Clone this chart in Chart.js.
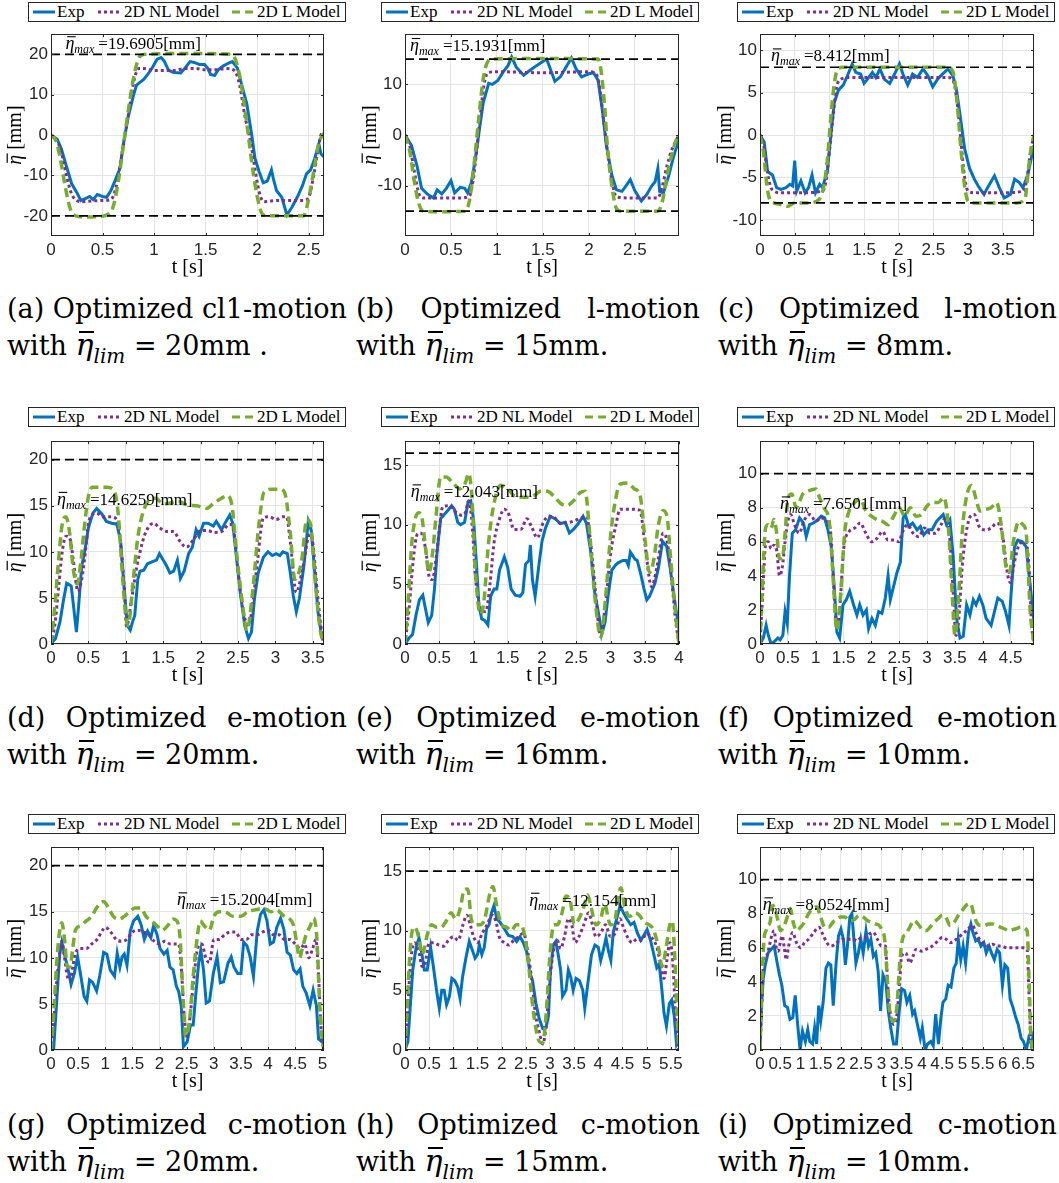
<!DOCTYPE html>
<html>
<head>
<meta charset="utf-8">
<script src="https://cdn.jsdelivr.net/npm/chart.js"></script>
<style>
  html, body { margin: 0; padding: 0; background: #fff; }
  #fig { position: relative; width: 1059px; height: 1183px; overflow: hidden; }
  .leg { position: absolute; width: 318px; height: 20px; box-sizing: border-box; border: 1px solid #262626;
         background: #fff; font: 17px "Liberation Serif"; color: #000; }
  .leg .it { position: absolute; top: 0; height: 18px; display: flex; align-items: center; white-space: nowrap; }
  .leg svg { margin-right: 2px; }
  .plot { position: absolute; }
  .cap { position: absolute; font: 27px "DejaVu Serif"; line-height: 36px; color: #000; }
  .cap .l1 { text-align: justify; text-align-last: justify; white-space: nowrap; }
  .cap .eta { font-style: italic; font-size: 30px; position: relative; }
  .cap .eta::after { content: ""; position: absolute; left: 3px; right: 0; top: 4px; border-top: 2px solid #000; }
  .cap .sub { font-style: italic; font-size: 20px; position: relative; top: 8px; }
</style>
</head>
<body>
<div id="fig"></div>
<script>
// ---- data: [t (s), eta (mm)] ----
const seriesLabels = ["Exp", "2D NL Model", "2D L Model"];
const motions = ["cl1-motion", "l-motion", "l-motion", "e-motion", "e-motion", "e-motion", "c-motion", "c-motion", "c-motion"];
const etaLim = [20, 15, 8, 20, 16, 10, 20, 15, 10];
const etaMax = ["19.6905", "15.1931", "8.412", "14.6259", "12.043", "7.6501", "15.2004", "12.154", "8.0524"];
const limitLines = [[20, -20], [15, -15], [8, -8], [20], [16], [10], [20], [15], [10]];
const yTicks = [[-20, -10, 0, 10, 20], [-10, 0, 10], [-10, -5, 0, 5, 10], [0, 5, 10, 15, 20], [0, 5, 10, 15],
                [0, 2, 4, 6, 8, 10], [0, 5, 10, 15, 20], [0, 5, 10, 15], [0, 2, 4, 6, 8, 10]];

const a_exp = [[0,0],[0.06,-1],[0.1,-3.4],[0.155,-8.2],[0.2,-12],[0.25,-14.2],[0.29,-16.2],[0.33,-15.8],[0.375,-15.2],[0.41,-16],[0.45,-14.7],[0.5,-15.2],[0.54,-15.4],[0.58,-13.8],[0.62,-11.4],[0.67,-8.2],[0.7,-2.6],[0.75,4.6],[0.8,9.8],[0.83,12.4],[0.9,13.8],[0.95,15.4],[0.99,17],[1.03,18.8],[1.07,19.2],[1.1,18.3],[1.14,16.1],[1.19,15.5],[1.26,15.4],[1.3,16.6],[1.35,18.2],[1.39,18],[1.44,17.5],[1.49,17.5],[1.52,16.6],[1.55,15],[1.59,14.8],[1.62,16.1],[1.67,17.1],[1.72,17.8],[1.76,18.2],[1.81,16.6],[1.85,12.6],[1.9,7.8],[1.95,-0.2],[1.98,-5.8],[2.02,-9],[2.06,-11.8],[2.1,-11.4],[2.14,-8.6],[2.16,-11],[2.19,-13.8],[2.24,-15.4],[2.29,-19.8],[2.34,-17.8],[2.39,-15.4],[2.44,-12.6],[2.48,-9.6],[2.52,-8.6],[2.56,-5.8],[2.6,-2.2],[2.62,-4.6],[2.65,-5.4]];
const a_nl = [[0,0],[0.05,-1],[0.1,-4.2],[0.155,-10.6],[0.2,-14.6],[0.25,-16.2],[0.3,-16.5],[0.4,-16.3],[0.5,-16.2],[0.58,-16],[0.63,-13],[0.68,-6],[0.72,0],[0.77,8],[0.81,14],[0.85,16.5],[0.9,16.5],[1.0,16],[1.2,16],[1.3,16.5],[1.4,16.5],[1.5,16.2],[1.6,16.2],[1.7,16.5],[1.78,16],[1.83,12.5],[1.88,5],[1.94,-2],[1.99,-10],[2.03,-15],[2.07,-16.5],[2.2,-16.2],[2.3,-16.2],[2.45,-16.2],[2.5,-15.5],[2.55,-10],[2.59,-4],[2.62,0],[2.65,1]];
const a_l = [[0,0],[0.05,-1.5],[0.09,-5.8],[0.14,-13],[0.19,-18.5],[0.24,-20],[0.35,-20.3],[0.45,-20.2],[0.54,-19.8],[0.6,-18],[0.65,-12],[0.7,-3],[0.75,6],[0.8,14],[0.85,19],[0.9,20],[1.2,20.2],[1.5,20.2],[1.75,20],[1.8,18],[1.85,12],[1.9,3],[1.95,-7],[2.0,-15],[2.05,-19.5],[2.1,-20],[2.45,-20],[2.5,-16],[2.55,-9],[2.6,-2],[2.65,0.5]];

const b_exp = [[0,0],[0.07,-2],[0.13,-6],[0.18,-10.5],[0.24,-11.6],[0.31,-12.4],[0.35,-10.8],[0.4,-11.6],[0.45,-10.5],[0.5,-9],[0.54,-11.4],[0.6,-10.3],[0.65,-10.5],[0.68,-11.4],[0.72,-9.5],[0.76,-5.3],[0.81,1.2],[0.85,6.3],[0.91,10.2],[0.95,10],[1.01,10.8],[1.07,12.5],[1.12,13.7],[1.16,15.4],[1.21,13.4],[1.29,11.8],[1.36,12.8],[1.43,13.7],[1.49,14.4],[1.54,15],[1.58,13.1],[1.63,10.6],[1.69,11.5],[1.76,13.7],[1.81,15.2],[1.86,13.1],[1.92,11.5],[2.0,12.1],[2.05,12.3],[2.1,10.8],[2.15,4.4],[2.19,-2],[2.25,-7.9],[2.3,-10.8],[2.36,-11.1],[2.4,-10.1],[2.45,-8.8],[2.5,-11],[2.57,-13],[2.63,-11.7],[2.68,-10.1],[2.72,-9.2],[2.75,-6.6],[2.77,-11.1],[2.81,-11.4],[2.87,-7.9],[2.92,-4.3],[2.98,-0.8]];
const b_nl = [[0,0],[0.05,-2],[0.1,-7],[0.15,-11.5],[0.2,-12.4],[0.4,-12.4],[0.6,-12.4],[0.7,-12],[0.74,-9],[0.78,-3],[0.82,4],[0.86,10],[0.9,12.3],[1.0,12.5],[1.5,12.3],[2.0,12.5],[2.08,12],[2.12,9],[2.16,3],[2.2,-3],[2.25,-9],[2.3,-12.2],[2.5,-12.4],[2.75,-12.4],[2.8,-10],[2.85,-6],[2.9,-3],[2.95,-1],[2.98,0]];
const b_l = [[0,0],[0.05,-3],[0.1,-9],[0.15,-13.5],[0.2,-15],[0.4,-15.1],[0.65,-15],[0.7,-13],[0.75,-6],[0.8,3],[0.85,11],[0.9,14.5],[0.95,15],[1.5,15.1],[2.1,15],[2.13,13],[2.17,6],[2.2,-2],[2.25,-10],[2.3,-14.5],[2.35,-15],[2.75,-15],[2.8,-13],[2.85,-8],[2.9,-4],[2.95,-1],[2.98,0]];

const c_exp = [[0,0],[0.06,-0.8],[0.11,-4.3],[0.18,-4.7],[0.24,-6.2],[0.3,-6.4],[0.375,-6.2],[0.43,-5.8],[0.47,-6],[0.5,-3],[0.53,-6.6],[0.59,-5.4],[0.65,-6.8],[0.7,-6.2],[0.75,-4.7],[0.8,-6.8],[0.86,-5.8],[0.9,-6.2],[0.97,-4.3],[1.02,-0.1],[1.07,3.8],[1.13,5.3],[1.2,5.9],[1.26,7],[1.33,8.4],[1.38,7.4],[1.45,7.2],[1.5,6.1],[1.55,6.6],[1.62,7.4],[1.67,6.8],[1.73,7.8],[1.79,6.6],[1.87,6.1],[1.94,7.2],[2.01,8.4],[2.06,7.2],[2.13,5.9],[2.2,7.2],[2.27,6.8],[2.35,7.8],[2.42,7],[2.49,5.7],[2.56,6.6],[2.63,7.2],[2.71,7.8],[2.78,7],[2.83,5.5],[2.88,2.6],[2.95,-1.6],[3.02,-3.9],[3.09,-5.2],[3.16,-6.2],[3.23,-7],[3.28,-6.2],[3.38,-4.8],[3.45,-6.2],[3.52,-7.4],[3.61,-7],[3.67,-5.2],[3.74,-5.6],[3.79,-6.2],[3.86,-4.7],[3.95,-1.2]];
const c_nl = [[0,0],[0.05,-1],[0.1,-4],[0.15,-6],[0.2,-6.6],[0.3,-6.8],[0.6,-6.8],[0.9,-6.6],[0.95,-5.5],[1.0,-2],[1.05,2],[1.1,5.5],[1.15,6.5],[1.3,6.8],[2.0,6.8],[2.7,6.8],[2.78,6.5],[2.84,4],[2.9,-1],[2.95,-5],[3.0,-6.6],[3.1,-6.8],[3.5,-6.8],[3.8,-6.6],[3.85,-5],[3.9,-2],[3.95,0]];
const c_l = [[0,0],[0.05,-2],[0.1,-6],[0.15,-7.8],[0.2,-8],[0.3,-8.2],[0.4,-8.4],[0.5,-8],[0.7,-8],[0.85,-7.6],[0.92,-6],[0.97,-3],[1.02,2],[1.07,6],[1.12,7.8],[1.2,8],[2.7,8],[2.78,7.5],[2.84,4],[2.9,-2],[2.95,-6],[3.0,-7.8],[3.1,-8],[3.7,-8],[3.82,-7.5],[3.87,-4],[3.92,-1],[3.95,0]];

const d_exp = [[0,0],[0.06,0.6],[0.12,2.4],[0.17,4.9],[0.21,6.6],[0.27,6.3],[0.3,4.2],[0.34,1.3],[0.37,4.2],[0.41,8.4],[0.46,10.5],[0.5,12.6],[0.56,14.2],[0.61,14.7],[0.68,14.1],[0.74,13.3],[0.81,13.1],[0.88,13],[0.93,11.2],[0.98,5.9],[1.02,2],[1.06,1.5],[1.09,2.4],[1.12,3.1],[1.16,7],[1.19,7.9],[1.24,8],[1.29,8.7],[1.35,8.9],[1.41,9.1],[1.45,9.8],[1.5,9.1],[1.55,8.4],[1.59,7.7],[1.64,7.9],[1.69,9.1],[1.73,7.1],[1.78,7.9],[1.84,9.8],[1.89,10.5],[1.94,12.4],[1.98,11.7],[2.04,13.1],[2.1,13.1],[2.17,12.8],[2.21,13.3],[2.28,12.4],[2.34,13.3],[2.39,14],[2.43,13.1],[2.48,9.4],[2.53,5.6],[2.59,2],[2.64,0.6],[2.68,1.3],[2.72,4.9],[2.77,7.7],[2.84,9.4],[2.9,10],[2.96,9.6],[3.01,9.8],[3.06,9.6],[3.1,10],[3.16,9.8],[3.2,7.7],[3.24,5.2],[3.28,3.5],[3.32,4.9],[3.38,8.4],[3.44,13.3],[3.48,12.3],[3.52,8.4],[3.57,3.5],[3.61,1.3],[3.65,1]];
const d_nl = [[0,0],[0.05,2],[0.1,6],[0.15,10],[0.2,11.7],[0.25,11.5],[0.3,9],[0.36,5.7],[0.41,7],[0.46,10],[0.5,13],[0.55,14],[0.61,14.2],[0.7,13.8],[0.8,13.8],[0.88,13.5],[0.93,11],[0.98,6],[1.01,1.9],[1.08,5],[1.15,8.5],[1.19,10],[1.26,12],[1.37,13.1],[1.45,12.6],[1.55,12.2],[1.64,12.2],[1.72,11.2],[1.81,10.5],[1.92,11.5],[2.0,12.3],[2.1,12.3],[2.17,12.1],[2.28,12.2],[2.39,13],[2.45,12],[2.5,8],[2.56,4],[2.64,2],[2.7,4.5],[2.76,9],[2.84,13.7],[2.92,13.8],[3.01,13.5],[3.1,13.8],[3.15,13.8],[3.2,11],[3.28,5.6],[3.36,8],[3.46,11.9],[3.5,11],[3.55,6.5],[3.6,2.5],[3.64,0]];
const d_l = [[0,0],[0.05,4],[0.1,9],[0.15,13],[0.2,13.8],[0.25,12],[0.3,8],[0.35,6.5],[0.4,9],[0.45,13],[0.5,16],[0.55,17],[0.65,17],[0.75,17],[0.85,16.5],[0.9,14],[0.95,8],[1.0,3],[1.03,2],[1.1,7],[1.16,11.5],[1.22,14],[1.3,15.5],[1.4,15.8],[1.5,15.2],[1.6,15.3],[1.7,15.5],[1.81,15.1],[1.95,15],[2.08,14.7],[2.18,15.3],[2.28,15.8],[2.35,16.1],[2.42,15],[2.48,10],[2.55,5],[2.62,1.5],[2.7,6],[2.78,13],[2.85,16.5],[2.95,16.8],[3.05,16.8],[3.12,16.5],[3.2,12],[3.26,7],[3.35,9],[3.42,13.5],[3.47,13],[3.53,7],[3.6,1.5],[3.65,0]];

const e_exp = [[0,0],[0.06,0.5],[0.11,0.8],[0.16,2.4],[0.21,3.7],[0.26,4.1],[0.29,3.2],[0.34,1.8],[0.39,2.4],[0.43,4.6],[0.47,7.8],[0.52,10.5],[0.58,10.9],[0.64,11.3],[0.68,11.6],[0.72,11.3],[0.77,10.2],[0.81,10],[0.87,10.2],[0.92,11.9],[0.96,12],[1.0,10.5],[1.04,7],[1.08,3.2],[1.12,2.1],[1.16,2],[1.21,1.6],[1.25,4],[1.3,4.6],[1.34,4.6],[1.38,6.2],[1.45,7.3],[1.5,6.4],[1.55,4.6],[1.61,4.1],[1.68,4],[1.72,4.3],[1.76,6.7],[1.81,7],[1.83,8.3],[1.86,5.4],[1.9,4],[1.95,6.4],[2.0,8.6],[2.05,9.7],[2.12,10.7],[2.19,10.5],[2.27,10.1],[2.34,10.2],[2.4,9.3],[2.46,9.6],[2.53,10.1],[2.6,10.7],[2.65,10.1],[2.71,7.8],[2.77,4.3],[2.84,2.1],[2.87,0.8],[2.92,1.8],[2.97,4.3],[3.02,6.2],[3.07,6.6],[3.11,6.8],[3.18,7],[3.23,7],[3.26,6.6],[3.29,7.7],[3.36,7.1],[3.39,7],[3.44,5.9],[3.49,4.6],[3.53,3.7],[3.57,4],[3.65,5.1],[3.7,6.4],[3.76,8.6],[3.82,8.2],[3.87,6.4],[3.92,4.3],[4.0,1.2]];
const e_nl = [[0,0],[0.06,3],[0.12,7],[0.18,9.2],[0.23,9.3],[0.3,8],[0.36,5.5],[0.4,5.4],[0.45,7],[0.5,9.5],[0.55,11.5],[0.65,11.6],[0.75,11],[0.82,10.8],[0.88,11],[0.93,12],[0.98,10],[1.03,5.5],[1.1,3],[1.18,2.7],[1.24,5],[1.3,8.5],[1.38,10.5],[1.45,11.3],[1.52,10.8],[1.59,9.6],[1.69,9.6],[1.78,10.5],[1.85,9.8],[1.93,8.9],[2.02,10.2],[2.1,10.7],[2.18,10.6],[2.27,10.1],[2.4,10.2],[2.55,10.5],[2.65,10.7],[2.7,9],[2.78,4.5],[2.85,0.8],[2.93,3.5],[3.0,7.5],[3.08,10],[3.14,11.3],[3.29,11.3],[3.43,11.2],[3.5,8.5],[3.6,4.8],[3.68,6.5],[3.77,9.3],[3.83,8.5],[3.9,5],[3.95,2],[4.0,0]];
const e_l = [[0,0],[0.05,4],[0.1,8.5],[0.15,10.5],[0.2,11],[0.25,10.5],[0.3,8],[0.35,6],[0.4,7.5],[0.45,10.5],[0.52,14],[0.6,14],[0.7,13.5],[0.8,13],[0.88,13.5],[0.93,14.3],[0.98,12],[1.03,6],[1.1,2.5],[1.15,3.5],[1.22,8.5],[1.3,11.8],[1.4,13.3],[1.5,13],[1.6,12.4],[1.7,12.3],[1.8,12.3],[1.9,12.5],[1.98,12.8],[2.08,12.8],[2.17,12.4],[2.27,11.8],[2.36,11.6],[2.46,12],[2.56,12.7],[2.63,12.8],[2.7,9],[2.77,4],[2.86,0.6],[2.93,4],[3.0,9],[3.07,12],[3.14,13.4],[3.25,13.5],[3.35,13],[3.43,12.5],[3.5,9],[3.57,6],[3.63,7],[3.7,10],[3.77,11.2],[3.83,10.5],[3.88,7],[3.95,2.5],[4.0,0]];

const f_exp = [[0,0],[0.06,0.35],[0.11,1.1],[0.15,0.5],[0.2,0],[0.26,0.15],[0.32,0.35],[0.36,0.25],[0.41,0.5],[0.45,1.9],[0.49,1.2],[0.53,4],[0.58,6.5],[0.64,6.7],[0.71,7.4],[0.78,7.1],[0.83,6.3],[0.89,7],[0.96,7.1],[1.04,7.3],[1.1,7.5],[1.16,7.4],[1.22,6.7],[1.28,5.7],[1.34,3],[1.38,0.7],[1.43,0.35],[1.49,2.3],[1.55,2.6],[1.61,3.1],[1.68,2.3],[1.74,1.7],[1.79,2.3],[1.85,1.7],[1.91,2],[1.95,0.9],[2.01,1.5],[2.07,1.1],[2.13,1.9],[2.19,1.8],[2.25,2.7],[2.3,4],[2.34,2.6],[2.4,3.4],[2.46,4.2],[2.52,4.8],[2.57,7.4],[2.61,7.6],[2.67,6.9],[2.74,7.1],[2.82,6.7],[2.88,6.9],[2.94,6.4],[3.02,6.7],[3.09,6.7],[3.17,7.2],[3.23,7.4],[3.29,7.6],[3.35,7],[3.41,7.3],[3.47,5.1],[3.53,1.5],[3.59,0.35],[3.65,0.45],[3.71,2.3],[3.77,1.7],[3.83,2.6],[3.88,2.3],[3.94,2.8],[4.0,2.3],[4.06,1.5],[4.15,1.1],[4.21,1.9],[4.27,2.7],[4.35,2.5],[4.41,1.9],[4.47,1.1],[4.51,3],[4.57,5.7],[4.63,6.1],[4.71,6],[4.78,5.7],[4.84,3.8],[4.92,1.3]];
const f_nl = [[0,0],[0.05,3],[0.1,5.8],[0.15,6],[0.2,5.6],[0.25,5.8],[0.3,5.5],[0.35,4],[0.4,4.5],[0.45,6],[0.5,7.2],[0.55,7.6],[0.62,7],[0.7,6.5],[0.8,7.3],[0.9,7.6],[1.0,7.2],[1.1,7.4],[1.2,7.2],[1.27,6.5],[1.33,3],[1.38,1],[1.43,2],[1.5,5.5],[1.6,6.6],[1.7,6.8],[1.8,7.1],[1.9,6.5],[2.0,6],[2.1,6.2],[2.2,6.6],[2.3,6.1],[2.4,6.1],[2.5,6],[2.55,6.5],[2.65,7],[2.75,6.5],[2.85,6.3],[2.95,6.8],[3.05,6.5],[3.15,6.5],[3.25,7],[3.33,7.4],[3.4,6.5],[3.47,3],[3.52,0.5],[3.57,1.5],[3.63,4.5],[3.7,6.5],[3.78,7.5],[3.85,7.6],[3.95,6.8],[4.05,6.7],[4.15,6.8],[4.25,7.1],[4.35,6.5],[4.45,4],[4.5,3.6],[4.55,4.5],[4.65,5.8],[4.75,6],[4.82,5],[4.88,1],[4.92,0]];
const f_l = [[0,0],[0.05,4],[0.1,6.8],[0.15,7],[0.2,6.8],[0.25,7.3],[0.3,6.5],[0.35,5],[0.4,5],[0.45,6.5],[0.5,8.5],[0.57,8.8],[0.65,8],[0.77,8.8],[0.88,9],[1.0,9.1],[1.08,8.5],[1.15,8],[1.25,7],[1.32,3.5],[1.38,0.8],[1.45,3],[1.52,6.5],[1.6,7.8],[1.7,8.3],[1.8,8.5],[1.9,7.8],[2.0,7.5],[2.1,7.3],[2.2,7.2],[2.3,7],[2.4,7.5],[2.5,8],[2.6,7.5],[2.7,8],[2.8,7.5],[2.9,7.6],[3.0,8.1],[3.1,8.3],[3.2,8.3],[3.3,8.6],[3.38,7],[3.45,3],[3.5,0.5],[3.57,3],[3.63,6.5],[3.7,8.5],[3.8,9.3],[3.88,8.5],[3.95,7.8],[4.05,7.9],[4.15,8],[4.25,8.3],[4.33,7],[4.42,4.5],[4.48,4.2],[4.55,6],[4.65,7.2],[4.72,7],[4.78,6.5],[4.85,2],[4.92,0]];

const g_exp = [[0,0.5],[0.05,0.2],[0.1,4.8],[0.16,10.4],[0.2,11.7],[0.26,10.1],[0.33,8.3],[0.37,7.1],[0.43,8.3],[0.49,10.1],[0.55,8],[0.61,5.8],[0.66,5.3],[0.71,7.6],[0.77,7.3],[0.84,6.4],[0.9,8.1],[0.97,10.6],[1.03,10.4],[1.09,8.7],[1.17,8],[1.22,10.5],[1.27,9],[1.31,10.1],[1.35,10.4],[1.4,9.2],[1.46,12.9],[1.52,14],[1.6,14.5],[1.66,13.6],[1.72,12],[1.78,12.9],[1.84,12.2],[1.89,13.5],[1.95,12.6],[2.01,11],[2.08,10.4],[2.14,10.8],[2.19,9],[2.25,8.7],[2.31,6.9],[2.35,6.4],[2.4,4.8],[2.44,0.35],[2.51,0.9],[2.57,2.7],[2.62,2.7],[2.66,5.5],[2.72,9.4],[2.76,10.8],[2.81,8.7],[2.86,5.1],[2.92,5.3],[2.99,8.3],[3.06,10.1],[3.12,7.3],[3.18,7.4],[3.26,9.4],[3.32,10.1],[3.37,9],[3.44,8.3],[3.5,8.3],[3.55,11.7],[3.61,11.3],[3.67,10.1],[3.73,8],[3.8,12.9],[3.86,14.7],[3.92,15.2],[3.98,14],[4.04,11.5],[4.1,11.7],[4.16,13.3],[4.23,14.3],[4.29,13.1],[4.35,10.6],[4.41,10.3],[4.47,8.7],[4.53,8.3],[4.59,8.8],[4.64,6.9],[4.7,6.2],[4.77,4.8],[4.83,6.5],[4.89,4.8],[4.93,1.2],[4.99,0.9],[5.03,1.8]];
const g_nl = [[0,0],[0.05,3],[0.1,7],[0.15,10],[0.2,11.8],[0.25,10],[0.3,8],[0.35,7.5],[0.4,9],[0.45,10.5],[0.55,11],[0.65,11],[0.75,11.5],[0.85,12],[0.95,13],[1.0,13.3],[1.1,12.8],[1.2,12],[1.3,11.8],[1.4,12],[1.5,12.8],[1.6,13],[1.7,12.8],[1.8,12.5],[1.9,11.8],[2.0,11.5],[2.1,11.8],[2.2,11.5],[2.3,11.5],[2.35,11.5],[2.4,9],[2.45,4],[2.5,1.5],[2.55,3],[2.62,7],[2.7,11],[2.78,11.5],[2.85,10],[2.92,9.5],[3.0,12],[3.1,12],[3.2,12.5],[3.3,12.8],[3.4,12.8],[3.5,12],[3.6,12],[3.7,12.5],[3.8,12.5],[3.9,12.8],[4.0,13],[4.1,12.5],[4.2,12.5],[4.3,12],[4.4,12],[4.5,11.5],[4.6,11],[4.67,11.5],[4.75,10],[4.82,11],[4.88,12],[4.93,8],[4.98,2],[5.03,0]];
const g_l = [[0,0],[0.05,4],[0.1,9],[0.15,12.5],[0.2,13.8],[0.25,12],[0.3,9],[0.35,9],[0.4,11],[0.45,13],[0.55,13.5],[0.65,14],[0.75,14.5],[0.85,15.5],[0.97,16.1],[1.05,15.5],[1.15,14.5],[1.25,14.2],[1.35,14.5],[1.45,15],[1.55,15.4],[1.65,15.4],[1.75,14.5],[1.85,14],[1.95,13.5],[2.05,13],[2.15,13.5],[2.25,14.2],[2.32,14],[2.38,12],[2.43,6],[2.48,1.5],[2.55,3],[2.62,8],[2.7,12.5],[2.75,14],[2.82,13.5],[2.92,13],[3.0,14.5],[3.1,15],[3.2,15],[3.35,14.5],[3.5,14.5],[3.62,15],[3.75,15.2],[3.85,15.3],[3.95,15.3],[4.05,15],[4.15,15.2],[4.3,14.5],[4.4,14.2],[4.47,13.5],[4.53,11.5],[4.58,10],[4.63,11],[4.7,12.5],[4.78,13.5],[4.84,14.3],[4.9,12],[4.95,5],[5.0,1],[5.03,0]];

const h_exp = [[0,0],[0.06,0.7],[0.1,3.1],[0.16,6.7],[0.23,8.6],[0.29,9.4],[0.34,8.3],[0.4,6.7],[0.46,6.7],[0.53,8.6],[0.59,6.9],[0.66,4.8],[0.71,3.5],[0.76,5],[0.81,5],[0.86,3.8],[0.92,4.5],[0.97,6],[1.03,5.8],[1.09,5.3],[1.14,4.3],[1.19,6.1],[1.26,7.7],[1.33,9.1],[1.4,8.3],[1.45,7.7],[1.5,8],[1.54,8.8],[1.59,8],[1.64,8.6],[1.69,10.2],[1.74,10.5],[1.79,11.5],[1.84,12.1],[1.9,11],[1.97,10.7],[2.05,10.2],[2.14,9.6],[2.23,9.5],[2.31,9.1],[2.38,9.5],[2.45,9],[2.52,8.2],[2.59,6.4],[2.64,5.8],[2.71,3.9],[2.78,2.6],[2.85,1.8],[2.92,1.9],[2.97,2.9],[3.01,6.7],[3.07,8.8],[3.12,9.1],[3.17,8],[3.22,6.7],[3.26,4.5],[3.33,5],[3.38,6.7],[3.43,6.1],[3.48,5],[3.54,6],[3.61,5.8],[3.68,5],[3.72,3.5],[3.79,5.8],[3.86,8],[3.93,8.8],[4.0,8.6],[4.05,7.5],[4.1,8.3],[4.16,9.4],[4.21,8.3],[4.26,7.5],[4.31,9.9],[4.38,11],[4.45,12.1],[4.52,11.5],[4.59,11],[4.67,10.5],[4.74,10.7],[4.81,9.8],[4.88,9.2],[4.94,9.6],[5.01,10.1],[5.08,9.2],[5.15,8],[5.21,6.9],[5.26,7.2],[5.31,5.3],[5.36,3.1],[5.41,2],[5.47,3.9],[5.52,4.2],[5.57,2.9],[5.62,0.4],[5.67,0.7]];
const h_nl = [[0,0],[0.05,3],[0.1,6.5],[0.15,8.5],[0.2,9],[0.3,8],[0.35,7],[0.4,7],[0.45,8],[0.5,9],[0.6,9],[0.7,8.8],[0.8,8.7],[0.9,9.2],[1.0,9.5],[1.1,9.2],[1.2,10.5],[1.28,11.3],[1.35,10.5],[1.42,9.5],[1.5,9],[1.6,9.8],[1.7,10.5],[1.8,11.3],[1.88,10.8],[1.95,9.5],[2.05,9],[2.15,8.8],[2.25,9.2],[2.35,9.5],[2.45,9.8],[2.55,8],[2.62,6],[2.7,3],[2.78,1.5],[2.85,0.5],[2.92,2],[3.0,6],[3.08,8.5],[3.15,9.2],[3.22,8.5],[3.3,9.5],[3.38,11],[3.45,10.5],[3.52,9],[3.6,9.5],[3.7,10.5],[3.8,11.5],[3.88,10.5],[3.95,9.5],[4.05,9.8],[4.15,10.5],[4.25,9.5],[4.35,9.8],[4.45,11],[4.5,10.5],[4.6,9.5],[4.7,9],[4.8,9.3],[4.9,9.2],[5.0,9.8],[5.08,9.5],[5.15,9.2],[5.22,8.5],[5.3,7],[5.36,6],[5.42,7.5],[5.48,9],[5.53,8],[5.6,3],[5.66,0]];
const h_l = [[0,0],[0.05,4],[0.1,8],[0.15,10],[0.2,10.3],[0.28,9.5],[0.35,8],[0.4,8.5],[0.45,9.5],[0.55,10.5],[0.65,10.3],[0.75,10.3],[0.85,10.8],[0.95,11.5],[1.05,11],[1.15,12],[1.22,13.4],[1.3,13.5],[1.37,11],[1.45,10.5],[1.55,10.5],[1.65,11],[1.75,13],[1.82,13.7],[1.9,12],[2.0,10.5],[2.1,10.3],[2.2,10],[2.3,10.5],[2.4,10.5],[2.48,9.5],[2.55,7.5],[2.62,4.5],[2.7,2],[2.78,0.7],[2.85,0.6],[2.92,3],[3.0,8],[3.08,10.5],[3.15,10.5],[3.25,11.5],[3.33,12.9],[3.42,12.5],[3.5,10.5],[3.6,11],[3.7,12],[3.78,13],[3.85,12],[3.95,10.5],[4.05,11],[4.13,12.2],[4.25,10.5],[4.35,11],[4.42,13],[4.47,13.6],[4.55,12],[4.65,11.2],[4.75,11.5],[4.85,11.3],[4.95,10.7],[5.05,10.5],[5.15,10],[5.25,8.5],[5.32,7],[5.4,8.5],[5.48,10.5],[5.53,10.8],[5.58,8],[5.63,3],[5.67,0]];

const i_exp = [[0,0],[0.03,2.3],[0.08,4.2],[0.13,5],[0.2,5.7],[0.27,5.9],[0.35,6.1],[0.41,5.3],[0.48,4.4],[0.54,3.8],[0.61,2.6],[0.68,2.5],[0.74,1.8],[0.81,1.9],[0.87,3.2],[0.93,1.5],[0.99,0],[1.05,1.1],[1.12,0.5],[1.18,1.2],[1.23,0.5],[1.3,0.35],[1.35,1.3],[1.4,0.35],[1.45,2.6],[1.5,1.7],[1.56,2.8],[1.63,4.8],[1.69,5.1],[1.75,5],[1.81,2.6],[1.88,5.1],[1.94,6.7],[2.0,7.1],[2.06,6.5],[2.11,5],[2.16,6.1],[2.22,7.8],[2.27,8],[2.32,6.5],[2.37,5.1],[2.43,5.7],[2.49,6.5],[2.55,5.7],[2.62,7],[2.68,6.1],[2.74,6.5],[2.8,5.5],[2.86,5.7],[2.92,4.6],[2.98,2.3],[3.04,4.4],[3.11,4],[3.17,2.3],[3.23,1.3],[3.3,0.35],[3.37,0.35],[3.44,2.3],[3.5,3.6],[3.57,3.5],[3.63,2.8],[3.7,3.2],[3.77,2.1],[3.82,2.3],[3.89,1.5],[3.96,0.7],[4.01,1.3],[4.08,0],[4.14,0.35],[4.22,0.5],[4.28,0.25],[4.34,2.1],[4.41,0.35],[4.47,1.9],[4.52,2.8],[4.59,3],[4.65,3.8],[4.72,3.7],[4.79,4.8],[4.85,5.1],[4.9,6.5],[4.96,5.3],[5.02,6.1],[5.08,5.1],[5.15,6.9],[5.21,7.4],[5.26,6.9],[5.33,6.4],[5.39,6.5],[5.46,6.1],[5.53,6.3],[5.59,5.7],[5.66,6.1],[5.72,5.7],[5.79,5.3],[5.86,5.9],[5.92,5.7],[5.99,3.8],[6.05,5],[6.12,4.8],[6.18,3],[6.25,2.5],[6.32,1.9],[6.38,1.5],[6.45,0.7],[6.51,0.5],[6.58,0],[6.64,0.7],[6.71,0.35],[6.77,1.1]];
const i_nl = [[0,0],[0.05,3],[0.1,5.5],[0.15,5.5],[0.2,5.8],[0.3,6.8],[0.35,7],[0.4,6],[0.45,5.8],[0.5,6.3],[0.55,6.7],[0.6,6],[0.65,5.3],[0.7,6],[0.81,6.9],[0.9,6.3],[1.0,6],[1.1,6.3],[1.2,6.5],[1.3,6.8],[1.46,7.2],[1.55,6.8],[1.65,6.3],[1.75,6.1],[1.85,6.2],[1.95,6.4],[2.05,6.5],[2.2,6.5],[2.3,6.5],[2.4,6.4],[2.5,6.6],[2.6,6.6],[2.7,6.8],[2.8,6.9],[2.9,6.5],[3.0,6.1],[3.1,6.1],[3.15,4],[3.2,2.5],[3.3,1.5],[3.38,2],[3.45,4],[3.5,5.5],[3.6,5.7],[3.7,5.1],[3.78,5.5],[3.85,5.9],[4.0,5.8],[4.1,5.9],[4.2,6],[4.3,6.2],[4.4,6.4],[4.5,6.6],[4.6,6.5],[4.7,6.3],[4.8,6.4],[4.9,6.6],[5.0,6.8],[5.1,7],[5.25,7.3],[5.35,6.8],[5.45,6.4],[5.55,6.2],[5.65,6.1],[5.75,6.2],[5.85,6.1],[5.95,6.1],[6.1,6],[6.3,6],[6.5,6],[6.6,5.9],[6.65,3],[6.7,0.3],[6.77,0]];
const i_l = [[0,0],[0.05,4],[0.1,6.5],[0.15,7],[0.2,7.3],[0.25,7.5],[0.31,8.5],[0.38,8.2],[0.45,7.5],[0.5,7],[0.6,7.3],[0.7,8],[0.75,8.3],[0.82,7.5],[0.9,7],[1.0,7.2],[1.1,7.5],[1.2,8],[1.3,8.3],[1.4,8.4],[1.5,7.8],[1.6,7.2],[1.7,7.2],[1.8,7.5],[1.9,7.7],[2.0,7.8],[2.1,7.8],[2.2,7.6],[2.3,7.6],[2.45,7.9],[2.55,7.8],[2.65,7.6],[2.75,7.5],[2.85,7.4],[2.95,7.3],[3.02,7],[3.08,6.5],[3.15,4],[3.22,2],[3.3,1.7],[3.38,2.5],[3.45,5],[3.52,6.5],[3.6,6.8],[3.7,7.2],[3.8,7.6],[3.9,7.4],[4.0,7.1],[4.1,7],[4.2,7.2],[4.3,7.5],[4.4,7.7],[4.5,7.9],[4.59,7.8],[4.7,7.3],[4.8,7.5],[4.9,7.9],[5.0,8.2],[5.1,8.5],[5.2,8.6],[5.28,8],[5.35,7.5],[5.45,7.3],[5.55,7.3],[5.65,7.4],[5.75,7.4],[5.85,7.3],[5.95,7.2],[6.05,7.1],[6.15,7],[6.3,7.1],[6.45,7.2],[6.6,7],[6.65,4],[6.7,0.5],[6.77,0]];

const expData = [a_exp, b_exp, c_exp, d_exp, e_exp, f_exp, g_exp, h_exp, i_exp];
const nlData = [a_nl, b_nl, c_nl, d_nl, e_nl, f_nl, g_nl, h_nl, i_nl];
const lData = [a_l, b_l, c_l, d_l, e_l, f_l, g_l, h_l, i_l];

// ---- layout / axes ----
const cols = [
  { left: 0, plotL: 51, plotR: 324, legL: 28, capL: 7, capW: 340, ytX: 15 },
  { left: 353, plotL: 405, plotR: 679, legL: 381, capL: 356, capW: 344, ytX: 17 },
  { left: 706, plotL: 760, plotR: 1034, legL: 737, capL: 718, capW: 339, ytX: 19 }
];
const rows = [
  { plotT: 29, plotB: 236, legT: 2, capT: 291 },
  { plotT: 436, plotB: 644, legT: 407, capT: 700 },
  { plotT: 842, plotB: 1050, legT: 814, capT: 1107 }
];
const axes = [
  { xMax: 2.65, yMin: -25, yMax: 25, ann: [0.14, 21.3] },
  { xMax: 2.98, yMin: -19.9, yMax: 19.9, ann: [0.054, 16.6] },
  { xMax: 3.95, yMin: -11.9, yMax: 11.9, ann: [0.16, 8.7] },
  { xMax: 3.65, yMin: 0, yMax: 22, ann: [0.08, 15.1] },
  { xMax: 4.0, yMin: 0, yMax: 17, ann: [0.085, 12.3] },
  { xMax: 4.92, yMin: 0, yMax: 11.9, ann: [0.36, 7.9] },
  { xMax: 5.03, yMin: 0, yMax: 22, ann: [2.32, 15.7] },
  { xMax: 5.67, yMin: 0, yMax: 17, ann: [2.57, 12.1] },
  { xMax: 6.77, yMin: 0, yMax: 11.9, ann: [0.066, 8.2] }
];

const styles = [
  { color: "#0072BD", width: 3, dash: [], svgDash: "" },
  { color: "#7E2F8E", width: 3, dash: [3, 3], svgDash: "3 3" },
  { color: "#77AC30", width: 3.5, dash: [9, 5], svgDash: "8 5" }
];
const AXC = "#262626";
const SERIF = '"Liberation Serif", serif';

// overlined italic eta, baseline-left, returns advance
function drawEta(ctx, x, y, size) {
  ctx.font = `italic ${size}px ${SERIF}`;
  const w = ctx.measureText("η").width;
  ctx.fillText("η", x, y);
  ctx.fillRect(x + size * 0.1, y - size * 0.72, w * 0.95, Math.max(1, size * 0.06));
  return w;
}

const matlabBox = {
  id: "matlabBox",
  afterDatasetsDraw(chart, args, opts) {
    const { ctx, chartArea: a, scales: { x, y } } = chart;
    ctx.save();
    ctx.strokeStyle = AXC;
    ctx.lineWidth = 1;
    ctx.setLineDash([]);
    ctx.beginPath();
    x.ticks.forEach(t => {
      const px = Math.round(x.getPixelForValue(t.value)) + 0.5;
      ctx.moveTo(px, a.bottom); ctx.lineTo(px, a.bottom - 3);
      ctx.moveTo(px, a.top); ctx.lineTo(px, a.top + 3);
    });
    y.ticks.forEach(t => {
      const py = Math.round(y.getPixelForValue(t.value)) + 0.5;
      ctx.moveTo(a.left, py); ctx.lineTo(a.left + 3, py);
      ctx.moveTo(a.right, py); ctx.lineTo(a.right - 3, py);
    });
    ctx.stroke();
    ctx.strokeRect(Math.round(a.left) + 0.5, Math.round(a.top) + 0.5, Math.round(a.width) - 1, Math.round(a.height) - 1);

    // eta_max annotation
    ctx.fillStyle = "#000";
    ctx.textAlign = "left";
    ctx.textBaseline = "alphabetic";
    let cx = x.getPixelForValue(opts.ann[0]);
    const cy = y.getPixelForValue(opts.ann[1]);
    cx += drawEta(ctx, cx, cy, 18);
    ctx.font = `italic 12px ${SERIF}`;
    ctx.fillText("max", cx, cy + 4);
    cx += ctx.measureText("max").width + 4;
    ctx.font = `17px ${SERIF}`;
    ctx.fillText("=" + opts.etaMax + "[mm]", cx, cy);

    // y axis title
    ctx.save();
    ctx.translate(opts.ytX, (a.top + a.bottom) / 2);
    ctx.rotate(-Math.PI / 2);
    ctx.font = `italic 20px ${SERIF}`;
    const we = ctx.measureText("η").width;
    ctx.font = `20px ${SERIF}`;
    const wr = ctx.measureText(" [mm]").width;
    const x0 = -(we + wr) / 2;
    drawEta(ctx, x0, 6, 20);
    ctx.font = `20px ${SERIF}`;
    ctx.fillText(" [mm]", x0 + we, 6);
    ctx.restore();
    ctx.restore();
  }
};

const fig = document.getElementById("fig");
const letters = "abcdefghi";

for (let k = 0; k < 9; k++) {
  const col = cols[k % 3], row = rows[Math.floor(k / 3)], ax = axes[k];

  // legend (HTML, built from the series definitions)
  const leg = document.createElement("div");
  leg.className = "leg";
  leg.style.left = col.legL + "px";
  leg.style.top = row.legT + "px";
  const offs = [4, 69, 203], lw = [22, 24, 23];
  seriesLabels.forEach((lab, s) => {
    const st = styles[s];
    const it = document.createElement("span");
    it.className = "it";
    it.style.left = offs[s] + "px";
    it.innerHTML = `<svg width="${lw[s]}" height="10"><line x1="0" y1="5" x2="${lw[s]}" y2="5" stroke="${st.color}" stroke-width="3" ${st.svgDash ? `stroke-dasharray="${st.svgDash}"` : ""}/></svg>${lab}`;
    leg.appendChild(it);
  });
  fig.appendChild(leg);

  // chart canvas
  const plotH = row.plotB - row.plotT;
  const padTop = 8, xAxisH = 42;
  const wrap = document.createElement("div");
  wrap.className = "plot";
  wrap.style.left = col.left + "px";
  wrap.style.top = (row.plotT - padTop) + "px";
  const cv = document.createElement("canvas");
  cv.width = 353;
  cv.height = plotH + padTop + xAxisH;
  wrap.appendChild(cv);
  fig.appendChild(wrap);

  const series = [expData[k], nlData[k], lData[k]];
  const datasets = series.map((pts, s) => ({
    label: seriesLabels[s],
    data: pts.map(p => ({ x: p[0], y: p[1] })),
    borderColor: styles[s].color,
    borderWidth: styles[s].width,
    borderDash: styles[s].dash,
    pointRadius: 0,
    tension: 0,
    cubicInterpolationMode: s === 0 ? "default" : "monotone",
    order: 3 - s
  }));
  limitLines[k].forEach(v => datasets.push({
    label: "limit",
    data: [{ x: 0, y: v }, { x: ax.xMax, y: v }],
    borderColor: "#000",
    borderWidth: 1.7,
    borderDash: [9, 5],
    pointRadius: 0,
    order: 0
  }));

  const yt = yTicks[k];
  new Chart(cv, {
    type: "line",
    data: { datasets },
    options: {
      responsive: false,
      animation: false,
      devicePixelRatio: 1,
      layout: { padding: { top: padTop, left: 0, right: col.left + 353 - col.plotR, bottom: 0 } },
      plugins: {
        legend: { display: false },
        tooltip: { enabled: false },
        matlabBox: { ann: ax.ann, etaMax: etaMax[k], ytX: col.ytX }
      },
      scales: {
        x: {
          type: "linear",
          min: 0, max: ax.xMax,
          afterFit: s => { s.height = xAxisH; },
          ticks: {
            stepSize: 0.5, includeBounds: false, autoSkip: false, maxRotation: 0,
            padding: 4, color: AXC, font: { family: '"Liberation Sans", Arial', size: 17 },
            callback: v => String(Math.round(v * 10) / 10)
          },
          grid: { color: "#e4e4e4", drawTicks: false },
          border: { display: false },
          title: { display: true, text: "t [s]", color: "#000", font: { family: SERIF, size: 20, lineHeight: 1 }, padding: { top: 0, bottom: 0.5 } }
        },
        y: {
          type: "linear",
          min: ax.yMin, max: ax.yMax,
          afterFit: s => { s.width = col.plotL - col.left; },
          afterBuildTicks: s => { s.ticks = yt.map(v => ({ value: v })); },
          ticks: {
            autoSkip: false, padding: 3, color: AXC,
            font: { family: '"Liberation Sans", Arial', size: 17 },
            callback: v => String(v)
          },
          grid: { color: "#e4e4e4", drawTicks: false },
          border: { display: false }
        }
      }
    },
    plugins: [matlabBox]
  });

  // caption
  const cap = document.createElement("div");
  cap.className = "cap";
  cap.style.left = col.capL + "px";
  cap.style.top = row.capT + "px";
  cap.style.width = col.capW + "px";
  const tail = k === 0 ? "mm ." : "mm.";
  cap.innerHTML = `<div class="l1">(${letters[k]}) Optimized ${motions[k]}</div>` +
    `<div class="l2">with <span class="eta">η</span><span class="sub">lim</span> = ${etaLim[k]}${tail}</div>`;
  fig.appendChild(cap);
}
</script>
</body>
</html>
